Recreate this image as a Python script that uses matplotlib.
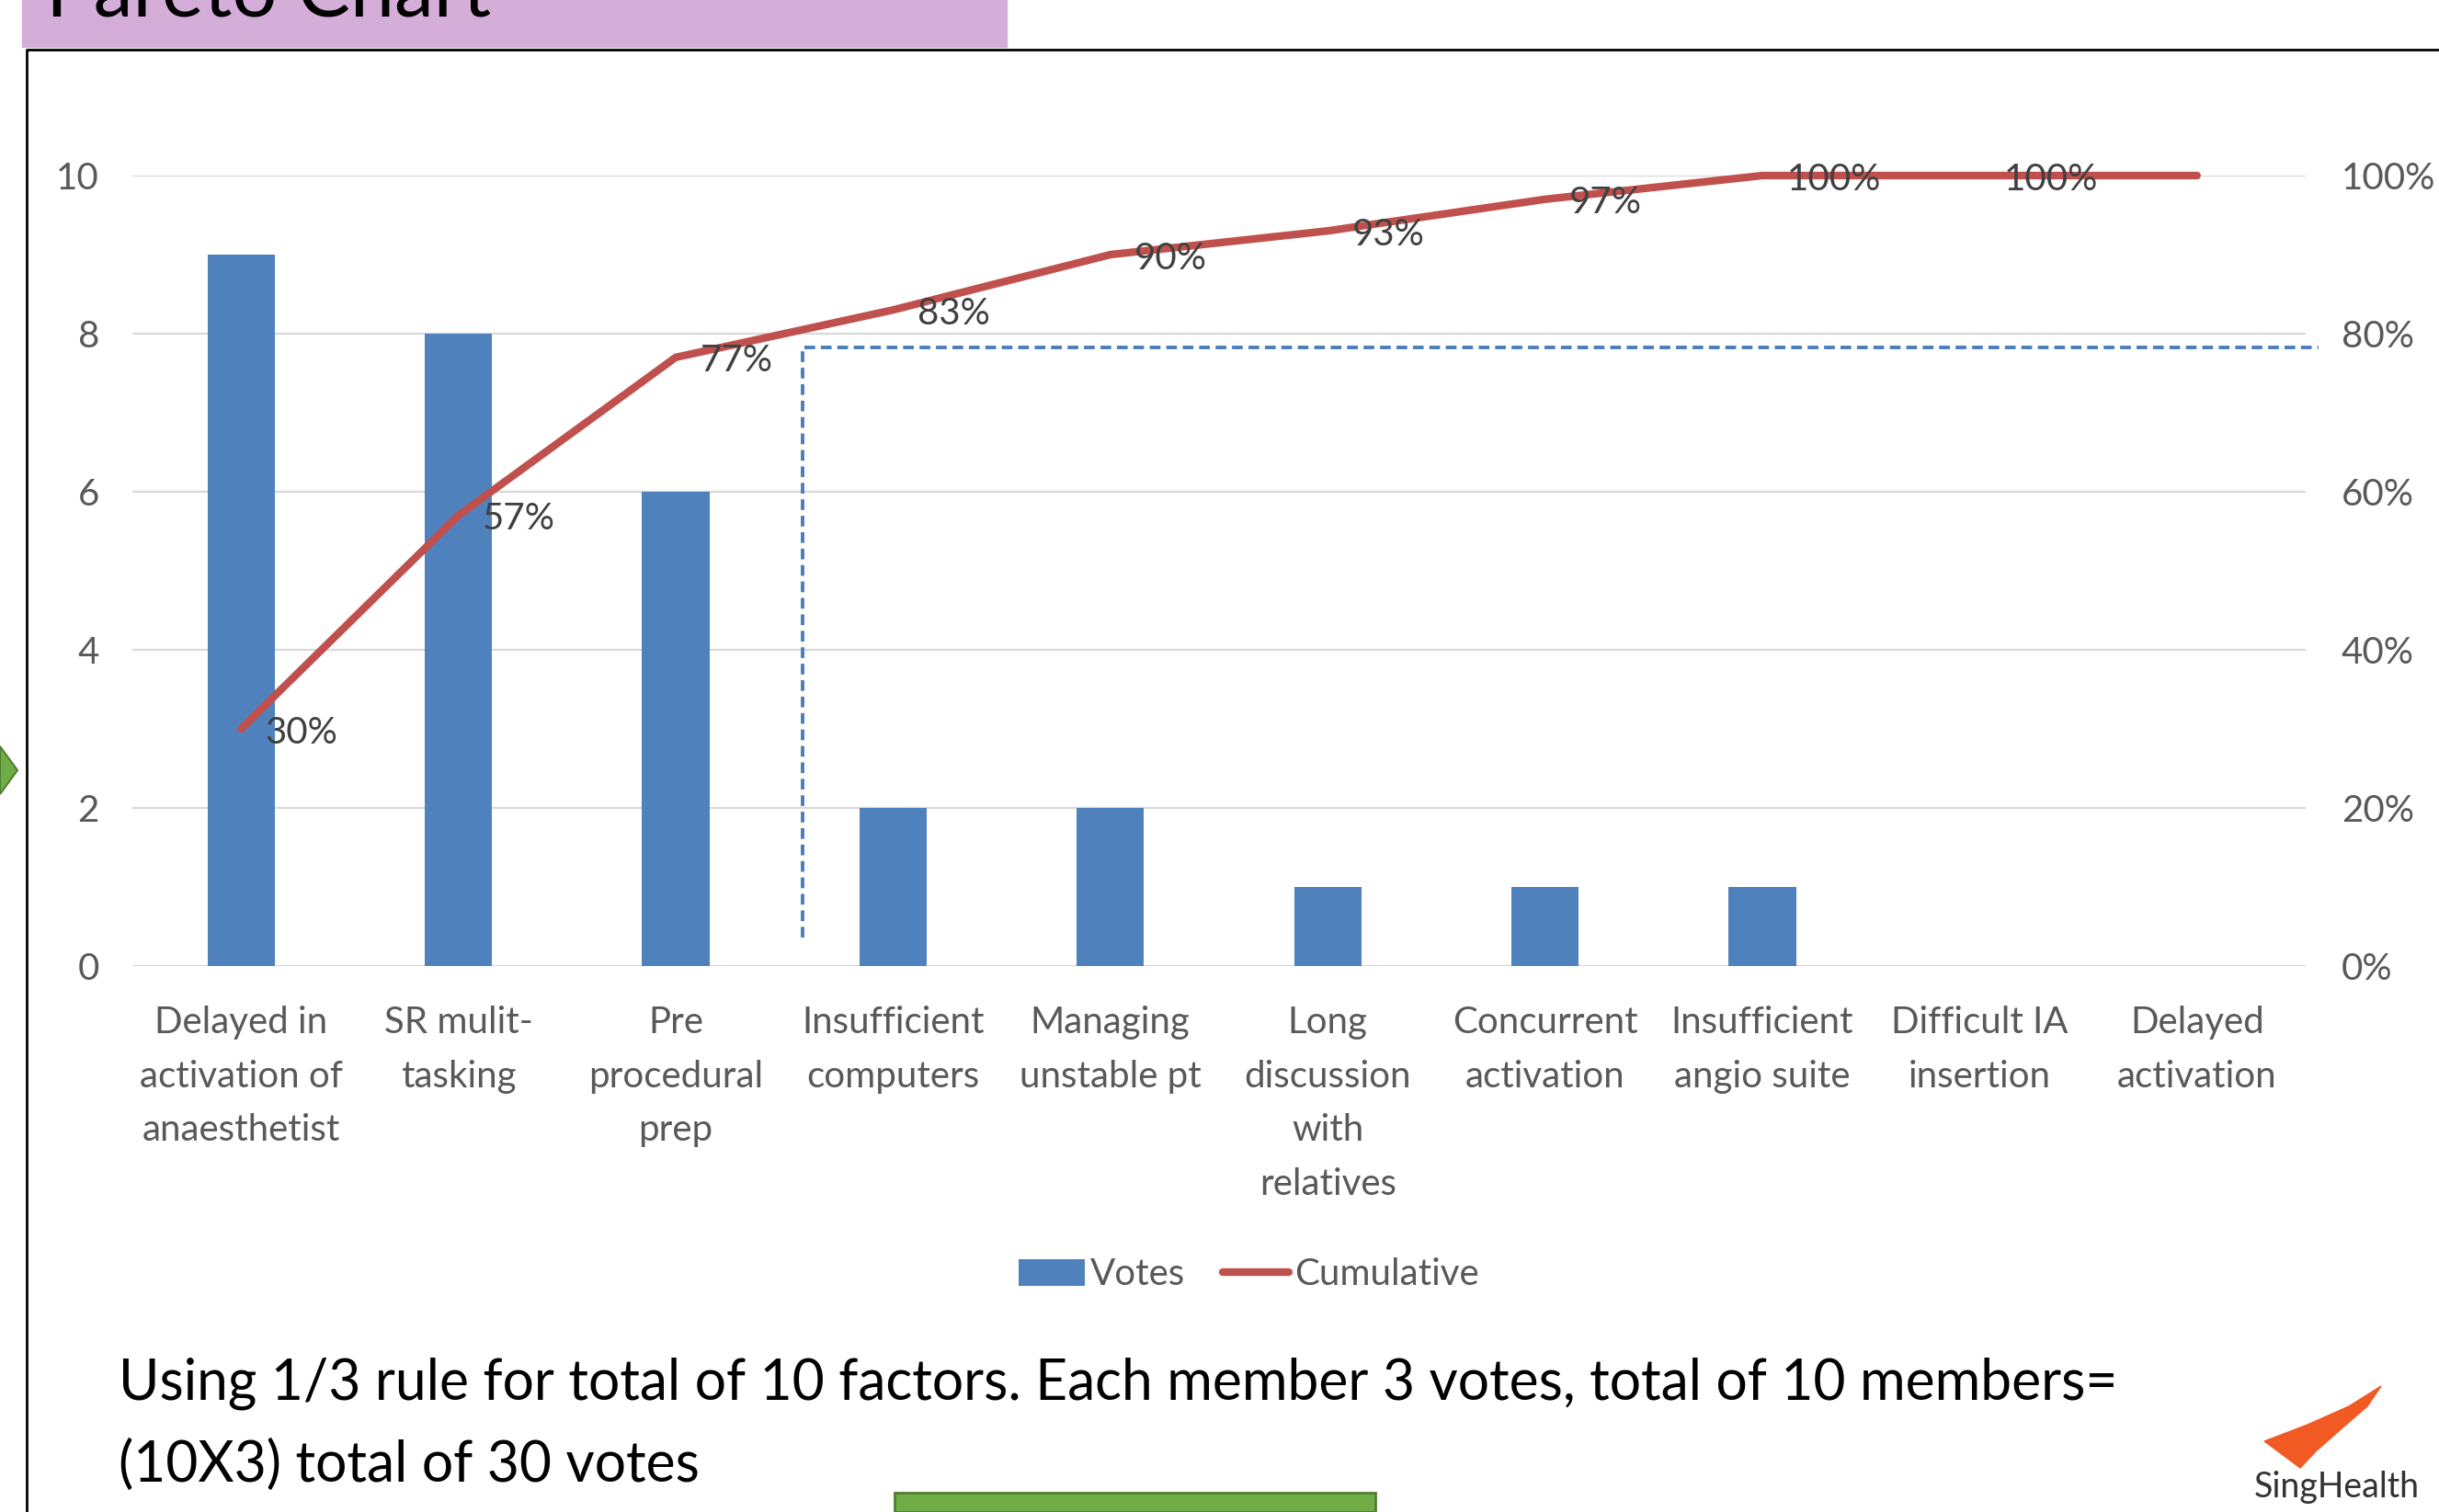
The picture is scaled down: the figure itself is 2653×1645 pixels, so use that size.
from matplotlib import pyplot as plt, ticker
from matplotlib.patches import Rectangle, Polygon
from matplotlib.lines import Line2D

plt.rcParams['font.family'] = ['Lato', 'DejaVu Sans']

categories = ['Delayed in\nactivation of\nanaesthetist', 'SR mulit-\ntasking', 'Pre\nprocedural\nprep',
              'Insufficient\ncomputers', 'Managing\nunstable pt', 'Long\ndiscussion\nwith\nrelatives',
              'Concurrent\nactivation', 'Insufficient\nangio suite', 'Difficult IA\ninsertion',
              'Delayed\nactivation']
votes = [9, 8, 6, 2, 2, 1, 1, 1, 0, 0]
cumulative = [30, 57, 77, 83, 90, 93, 97, 100, 100, 100]
cumulative_labels = ['30%', '57%', '77%', '83%', '90%', '93%', '97%', '100%', '100%', '']
left_ticks = [0, 2, 4, 6, 8, 10]
right_ticks = [0, 20, 40, 60, 80, 100]
# hand-drawn cut-off marker (x in category units, y in percent)
cutoff_x = [2.585, 2.585, 9.56]
cutoff_y = [3.6, 78.3, 78.3]

BLUE = '#4F81BD'
RED = '#C0504D'
GREY = '#595959'
W, H = 2653, 1645

fig = plt.figure(figsize=(W / 100, H / 100), dpi=100)

# slide decorations
fig.patches.append(Rectangle((24 / W, 1 - 51 / H), (1095 - 24) / W, 51 / H,
                             transform=fig.transFigure, color='#D4ADD8', zorder=0))
fig.text(50 / W, 1 - 17 / H, 'Pareto Chart', fontsize=62, color='black', va='baseline')
fig.add_artist(Line2D([29 / W, 29 / W, 1], [0, 1 - 54 / H, 1 - 54 / H], transform=fig.transFigure,
                      color='black', lw=2))
fig.patches.append(Polygon([(0, 1 - 812 / H), (19 / W, 1 - 838 / H), (0, 1 - 864 / H)], closed=True,
                           transform=fig.transFigure, facecolor='#70AD47', edgecolor='#507E32', lw=1.5))
fig.patches.append(Rectangle((973 / W, 0), (1496 - 973) / W, 21 / H, transform=fig.transFigure,
                             facecolor='#70AD47', edgecolor='#507E32', lw=2))

ax = fig.add_axes([144 / W, 1 - 1051 / H, (2508 - 144) / W, (1051 - 191) / H])
ax2 = ax.twinx()

x = list(range(len(categories)))
bars = ax.bar(x, votes, width=0.31, color=BLUE, zorder=2)
ax.set_xlim(-0.5, len(categories) - 0.5)
ax.set_ylim(0, 10)
ax.set_yticks(left_ticks)
ax.set_xticks(x)
ax.set_xticklabels(categories, linespacing=1.72)
ax.tick_params(axis='x', length=0, pad=31, labelsize=29, labelcolor=GREY)
ax.tick_params(axis='y', length=0, pad=26, labelsize=29, labelcolor=GREY)
ax.grid(axis='y', color='#D9D9D9', lw=1.6, zorder=0)
ax.set_axisbelow(True)

line, = ax2.plot(x, cumulative, color=RED, lw=6, solid_capstyle='round', clip_on=False, zorder=3)
for xi, yi, lab in zip(x, cumulative, cumulative_labels):
    ax2.annotate(lab, (xi, yi), xytext=(19, -3), textcoords='offset points', ha='left', va='center',
                 fontsize=29, color='#404040', annotation_clip=False)
ax2.plot(cutoff_x, cutoff_y, color='#4A7EBB', lw=2.8, ls=(0, (3, 1.6)), clip_on=False)
ax2.set_ylim(0, 100)
ax2.set_yticks(right_ticks)
ax2.yaxis.set_major_formatter(ticker.PercentFormatter(decimals=0))
ax2.tick_params(axis='y', length=0, pad=28, labelsize=29, labelcolor=GREY)

for a in (ax, ax2):
    for s in a.spines.values():
        s.set_visible(False)

fig.legend([bars, line], ['Votes', 'Cumulative'], loc='center', bbox_to_anchor=(0.512, 1 - 1387 / H),
           ncol=2, frameon=False, fontsize=29, labelcolor=GREY, handlelength=1.8, handletextpad=0.15,
           columnspacing=1.0, handleheight=0.7)

fig.text(129 / W, 1 - 1505 / H,
         'Using 1/3 rule for total of 10 factors. Each member 3 votes, total of 10 members=',
         fontsize=43.6, color='black', va='center')
fig.text(129 / W, 1 - 1594 / H, '(10X3) total of 30 votes', fontsize=43.6, color='black', va='center')

# logo
fig.patches.append(Polygon([(2463 / W, 1 - 1568 / H), (2510 / W, 1 - 1550 / H), (2555 / W, 1 - 1530 / H),
                            (2590 / W, 1 - 1508 / H), (2575 / W, 1 - 1530 / H), (2545 / W, 1 - 1556 / H),
                            (2520 / W, 1 - 1578 / H), (2502 / W, 1 - 1597 / H), (2482 / W, 1 - 1582 / H)],
                           closed=True, transform=fig.transFigure, color='#F15A22'))
fig.text(2542 / W, 1 - 1618 / H, 'SingHealth', fontsize=27, color='#333333', ha='center', va='center')

fig.savefig('out.png', dpi=100)
